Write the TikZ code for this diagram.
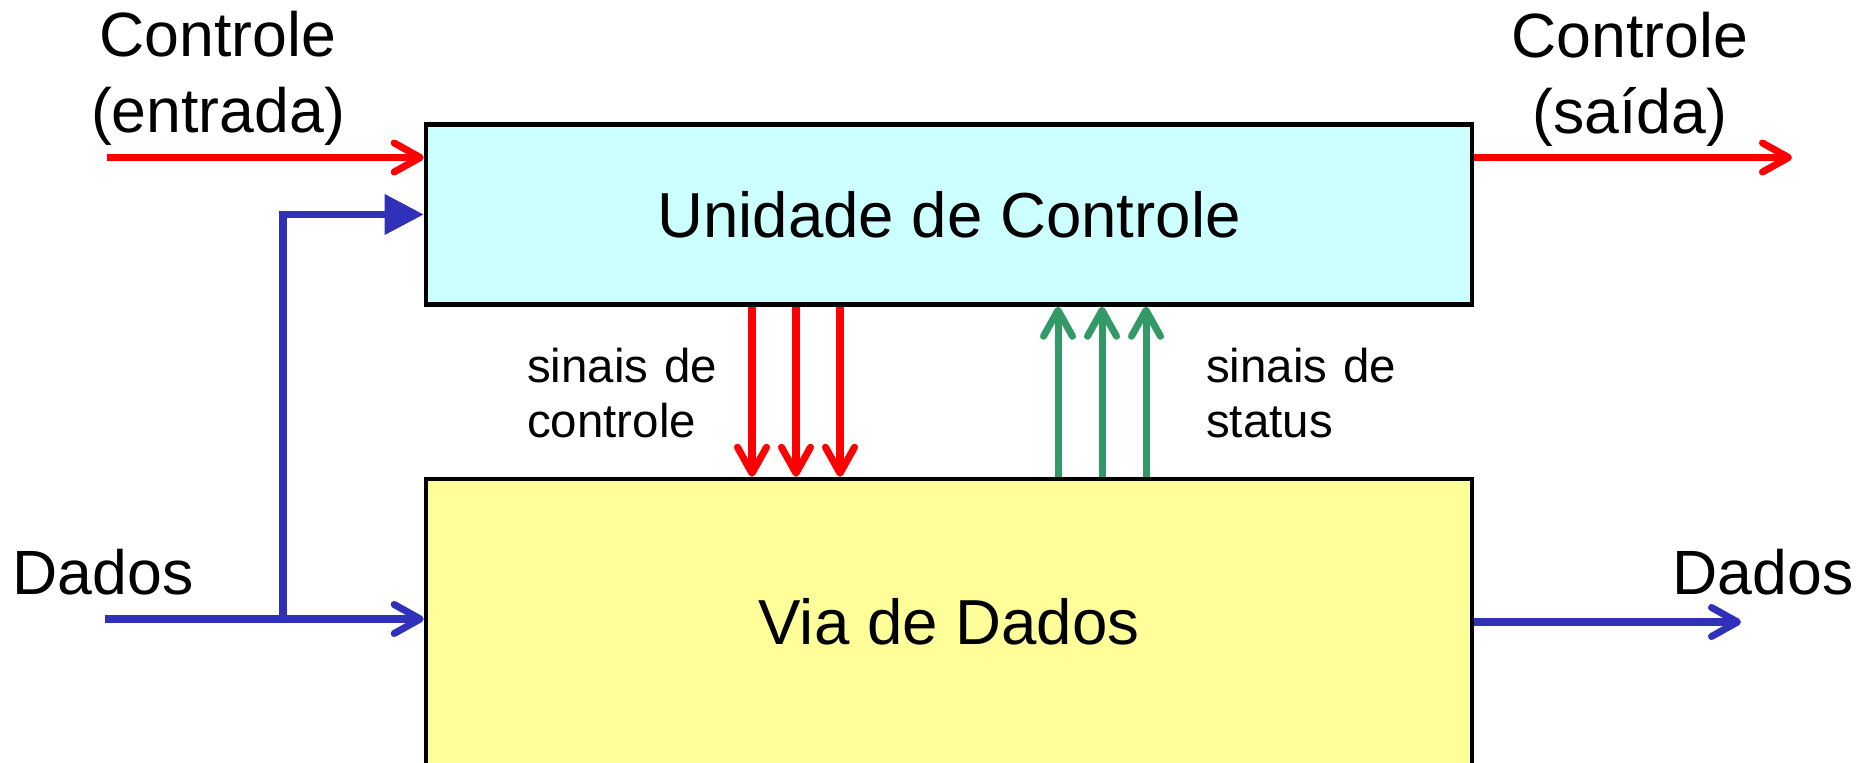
\documentclass[tikz,border=0pt]{standalone}
\usepackage{fontspec}
\setmainfont{Liberation Sans}
\usetikzlibrary{arrows.meta,positioning}
\definecolor{sigred}{RGB}{255,0,0}
\definecolor{datblue}{RGB}{48,48,184}
\definecolor{statgreen}{RGB}{51,153,102}
\definecolor{ctrlfill}{RGB}{204,255,255}
\definecolor{datfill}{RGB}{255,255,153}
\tikzset{every picture/.style={
  >={Straight Barb[length=2.6mm,width=2.9mm,round]}   % Open arrow heads.
  }
}

\begin{document}
\begin{tikzpicture}[
    unit/.style={               % Boxes denoting the two blocks.
      rectangle,
      draw,
      line width=1.3pt,
      minimum width=10.46cm,
      inner sep=0pt,
      font=\fontsize{18.1}{21.6}\selectfont
    },
    lbl/.style={                % Labels of the outside signals.
      inner sep=0pt,
      text width=4cm,
      align=center,
      anchor=base,
      font=\fontsize{17.8}{21.6}\selectfont
    },
    sig/.style={                % Labels of the signal groups.
      inner sep=0pt,
      text width=3cm,
      align=left,
      anchor=base west,
      font=\fontsize{13.5}{15.6}\selectfont
    },
    wire/.style={               % Signal lines.
      line width=2pt
    }]

    \useasboundingbox (0,0) rectangle (18.62,7.62);
    \clip (0,0) rectangle (18.62,7.62);

    % The two blocks.
    \node[unit,fill=ctrlfill,minimum height=1.80cm] (ctrl) at (9.49,5.475)
      {Unidade de Controle};
    \node[unit,fill=datfill,minimum height=2.86cm] (dp) [below=1.70cm of ctrl]
      {Via de Dados};

    % Free ends of the outside signals.
    \coordinate (cin)   at (1.07,6.045);
    \coordinate (cout)  at (17.92,6.045);
    \coordinate (din)   at (1.05,1.43);
    \coordinate (split) at (2.83,1.43);
    \coordinate (dout)  at (17.41,1.40);

    % Outside control and data signals.
    \draw[wire,sigred,->] (cin) -- (cin -| ctrl.west);
    \draw[wire,sigred,->] (ctrl.east |- cout) -- (cout);
    \draw[wire,datblue,->] (din) -- (din -| dp.west);
    \draw[wire,datblue,-{Triangle[length=3.9mm,width=3.9mm]}] (split) |- (ctrl.west);
    \draw[wire,datblue,->] (dp.east |- dout) -- (dout);

    % Control signals down to the data path.
    \draw[wire,sigred,->] ([xshift=-1.97cm] ctrl.south) -- ([xshift=-1.97cm] dp.north);
    \draw[wire,sigred,->] ([xshift=-1.53cm] ctrl.south) -- ([xshift=-1.53cm] dp.north);
    \draw[wire,sigred,->] ([xshift=-1.09cm] ctrl.south) -- ([xshift=-1.09cm] dp.north);

    % Status signals up to the control unit.
    \draw[wire,statgreen,->] ([xshift=1.09cm] dp.north) -- ([xshift=1.09cm] ctrl.south);
    \draw[wire,statgreen,->] ([xshift=1.53cm] dp.north) -- ([xshift=1.53cm] ctrl.south);
    \draw[wire,statgreen,->] ([xshift=1.97cm] dp.north) -- ([xshift=1.97cm] ctrl.south);

    % Label the signals.
    \node[lbl] (lcin)  at (2.18,7.05)  {Controle\\(entrada)};
    \node[lbl] (lcout) at (16.30,7.04) {Controle\\(saída)};
    \node[lbl] (ldin)  at (1.03,1.68)  {Dados};
    \node[lbl] (ldout) at (17.63,1.67) {Dados};
    \node[sig] (lctrl) at (5.265,3.79)  {sinais de\\controle};
    \node[sig] (lstat) at (12.055,3.79) {sinais de\\status};
\end{tikzpicture}
\end{document}
